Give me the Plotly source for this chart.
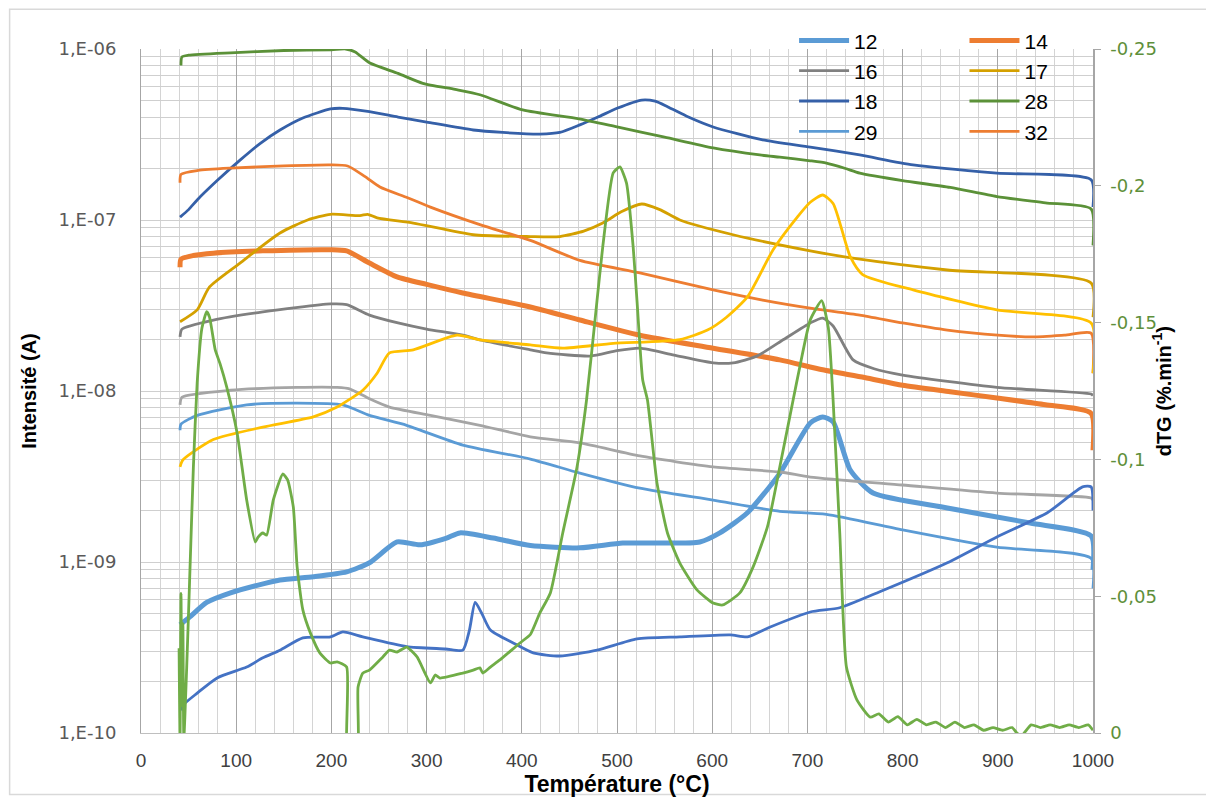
import plotly.graph_objects as go

# temperature (°C) / intensity (A) for each m/z
t12 = [41, 51, 69, 94, 122, 146, 181, 216, 240, 269, 293, 321, 335, 370, 409, 461, 506, 548, 587, 608, 637, 671, 703, 716, 727, 745, 769, 847, 934, 998, 1000]
i12 = [4.3e-10, 4.76e-10, 5.8e-10, 6.6e-10, 7.3e-10, 7.85e-10, 8.2e-10, 8.75e-10, 9.9e-10, 1.31e-9, 1.26e-9, 1.38e-9, 1.48e-9, 1.38e-9, 1.25e-9, 1.21e-9, 1.29e-9, 1.29e-9, 1.31e-9, 1.48e-9, 1.94e-9, 3.3e-9, 6.5e-9, 7.05e-9, 6.6e-9, 3.45e-9, 2.53e-9, 2.07e-9, 1.69e-9, 1.42e-9, 9.0e-10]

t14 = [41, 42, 55, 76, 128, 199, 216, 240, 269, 300, 338, 409, 461, 524, 601, 671, 716, 760, 800, 850, 899, 950, 998, 1000]
i14 = [5.3e-8, 5.9e-8, 6.2e-8, 6.4e-8, 6.6e-8, 6.7e-8, 6.6e-8, 5.6e-8, 4.65e-8, 4.2e-8, 3.74e-8, 3.1e-8, 2.6e-8, 2.12e-8, 1.78e-8, 1.52e-8, 1.33e-8, 1.2e-8, 1.08e-8, 9.9e-9, 9.1e-9, 8.3e-9, 7.4e-9, 4.5e-9]

t16 = [41, 43, 76, 128, 199, 216, 240, 270, 300, 338, 356, 409, 426, 472, 500, 524, 560, 601, 622, 647, 675, 703, 716, 727, 748, 770, 800, 899, 998, 1000]
i16 = [2.07e-8, 2.3e-8, 2.6e-8, 2.9e-8, 3.23e-8, 3.2e-8, 2.78e-8, 2.5e-8, 2.3e-8, 2.12e-8, 1.99e-8, 1.74e-8, 1.67e-8, 1.6e-8, 1.72e-8, 1.78e-8, 1.62e-8, 1.46e-8, 1.46e-8, 1.6e-8, 2.0e-8, 2.5e-8, 2.67e-8, 2.4e-8, 1.52e-8, 1.35e-8, 1.24e-8, 1.05e-8, 9.6e-9, 9.4e-9]

t17 = [41, 59, 72, 104, 146, 175, 199, 230, 238, 248, 286, 349, 409, 440, 465, 485, 505, 526, 545, 566, 622, 703, 755, 847, 998, 1000]
i17 = [2.54e-8, 2.98e-8, 4.06e-8, 5.6e-8, 8.4e-8, 1.0e-7, 1.08e-7, 1.06e-7, 1.08e-7, 1.03e-7, 9.6e-8, 8.2e-8, 8.0e-8, 8.0e-8, 8.6e-8, 9.6e-8, 1.12e-7, 1.24e-7, 1.15e-7, 1.0e-7, 8.2e-8, 6.6e-8, 5.9e-8, 5.1e-8, 4.28e-8, 2.7e-8]

t18 = [41, 50, 59, 80, 104, 125, 146, 170, 199, 212, 240, 270, 300, 349, 380, 419, 440, 461, 480, 500, 526, 540, 553, 575, 601, 653, 703, 755, 811, 899, 998, 1000]
i18 = [1.04e-7, 1.15e-7, 1.31e-7, 1.7e-7, 2.24e-7, 2.8e-7, 3.36e-7, 3.95e-7, 4.46e-7, 4.5e-7, 4.3e-7, 4.0e-7, 3.74e-7, 3.36e-7, 3.25e-7, 3.18e-7, 3.25e-7, 3.6e-7, 4.0e-7, 4.5e-7, 5.03e-7, 4.95e-7, 4.6e-7, 4.0e-7, 3.5e-7, 2.94e-7, 2.67e-7, 2.4e-7, 2.1e-7, 1.88e-7, 1.72e-7, 1.19e-7]

t28 = [42, 43, 50, 94, 150, 200, 215, 225, 240, 270, 296, 330, 356, 401, 460, 500, 550, 601, 650, 671, 703, 720, 740, 755, 800, 850, 899, 950, 998, 1000]
i28 = [8.0e-7, 9.0e-7, 9.2e-7, 9.5e-7, 9.8e-7, 9.9e-7, 1.0e-6, 9.6e-7, 8.3e-7, 7.2e-7, 6.3e-7, 5.8e-7, 5.4e-7, 4.4e-7, 3.9e-7, 3.5e-7, 3.05e-7, 2.64e-7, 2.4e-7, 2.33e-7, 2.22e-7, 2.15e-7, 2.0e-7, 1.88e-7, 1.7e-7, 1.55e-7, 1.37e-7, 1.26e-7, 1.16e-7, 7.1e-8]

t29 = [41, 42, 59, 111, 164, 212, 240, 279, 338, 409, 461, 524, 601, 671, 720, 800, 899, 998, 1000]
i29 = [5.9e-9, 6.4e-9, 7.2e-9, 8.3e-9, 8.5e-9, 8.3e-9, 7.2e-9, 6.3e-9, 4.83e-9, 4.0e-9, 3.31e-9, 2.7e-9, 2.3e-9, 1.98e-9, 1.9e-9, 1.54e-9, 1.22e-9, 1.05e-9, 7.0e-10]

t32 = [41, 42, 60, 94, 150, 199, 217, 235, 251, 280, 304, 356, 409, 461, 524, 601, 653, 703, 755, 800, 847, 900, 937, 970, 998, 1000]
i32 = [1.65e-7, 1.85e-7, 1.95e-7, 2.01e-7, 2.07e-7, 2.1e-7, 2.07e-7, 1.8e-7, 1.56e-7, 1.35e-7, 1.19e-7, 9.4e-8, 7.6e-8, 5.8e-8, 4.9e-8, 3.9e-8, 3.4e-8, 3.05e-8, 2.78e-8, 2.5e-8, 2.27e-8, 2.12e-8, 2.07e-8, 2.12e-8, 2.18e-8, 1.27e-8]

# curves drawn without a legend entry
t_gray = [41, 43, 94, 164, 206, 219, 240, 261, 304, 356, 409, 461, 524, 601, 671, 703, 800, 899, 998, 1000]
i_gray = [8.3e-9, 9.2e-9, 1.01e-8, 1.05e-8, 1.05e-8, 1.03e-8, 9.0e-9, 8.05e-9, 7.2e-9, 6.3e-9, 5.4e-9, 4.97e-9, 4.17e-9, 3.6e-9, 3.36e-9, 3.14e-9, 2.82e-9, 2.53e-9, 2.37e-9, 2.3e-9]

t_yel = [41, 44, 76, 128, 181, 206, 220, 233, 248, 261, 286, 332, 356, 409, 443, 496, 566, 595, 615, 637, 664, 690, 703, 716, 727, 745, 758, 811, 899, 998, 1000]
i_yel = [3.6e-9, 3.95e-9, 5.2e-9, 6.15e-9, 7.05e-9, 8.05e-9, 9.0e-9, 1.01e-8, 1.27e-8, 1.67e-8, 1.74e-8, 2.12e-8, 1.99e-8, 1.86e-8, 1.78e-8, 1.9e-8, 2.0e-8, 2.27e-8, 2.7e-8, 3.55e-8, 6.7e-8, 1.05e-7, 1.27e-7, 1.4e-7, 1.25e-7, 6.1e-8, 4.8e-8, 3.9e-8, 2.98e-8, 2.5e-8, 1.27e-8]

t_blu = [43, 44, 59, 80, 111, 128, 146, 170, 199, 212, 233, 279, 320, 338, 345, 351, 358, 367, 391, 412, 440, 479, 521, 566, 619, 637, 661, 703, 734, 776, 847, 899, 952, 989, 998, 1000]
i_blu = [1.35e-10, 1.45e-10, 1.71e-10, 2.1e-10, 2.43e-10, 2.75e-10, 3.05e-10, 3.6e-10, 3.65e-10, 3.9e-10, 3.65e-10, 3.2e-10, 3.1e-10, 3.05e-10, 4.0e-10, 5.8e-10, 5.0e-10, 4.0e-10, 3.36e-10, 2.94e-10, 2.82e-10, 3.05e-10, 3.55e-10, 3.65e-10, 3.75e-10, 3.65e-10, 4.17e-10, 5.1e-10, 5.4e-10, 6.7e-10, 9.9e-10, 1.4e-9, 1.94e-9, 2.75e-9, 2.75e-9, 2.0e-9]

# dTG (%/min), right axis
t_dtg = [40, 41, 42, 43, 44, 45, 48, 51, 55, 59, 64, 69, 72, 78, 83, 90, 101, 111, 120, 123, 128, 132, 139, 149, 154, 160, 164, 170, 178, 188, 199, 206, 216, 217, 227, 228, 233, 240, 254, 261, 269, 279, 290, 304, 309, 314, 338, 349, 356, 359, 367, 377, 398, 409, 419, 430, 443, 458, 468, 479, 485, 496, 503, 510, 517, 521, 527, 532, 542, 553, 566, 584, 601, 611, 629, 643, 658, 671, 685, 692, 703, 715, 722, 727, 734, 741, 752, 766, 775, 785, 795, 805, 815, 825, 835, 845, 855, 865, 875, 885, 895, 905, 915, 920, 925, 935, 945, 955, 965, 975, 985, 995, 1000]
dtg = [-0.031, 0.003, -0.051, -0.01, -0.04, 0.002, -0.024, -0.055, -0.097, -0.128, -0.148, -0.154, -0.152, -0.14, -0.135, -0.1265, -0.1096, -0.0852, -0.0698, -0.0716, -0.0731, -0.0723, -0.0852, -0.0947, -0.0925, -0.0826, -0.0607, -0.045, -0.0365, -0.0292, -0.0256, -0.026, -0.0241, 0.01, 0.01, -0.0168, -0.0219, -0.023, -0.0278, -0.0303, -0.0296, -0.0314, -0.0278, -0.0183, -0.0212, -0.0201, -0.0219, -0.023, -0.0238, -0.0219, -0.0241, -0.0267, -0.0329, -0.036, -0.0439, -0.0512, -0.0731, -0.0972, -0.1217, -0.158, -0.1776, -0.2047, -0.2069, -0.201, -0.1776, -0.158, -0.129, -0.1217, -0.0914, -0.0731, -0.0621, -0.0523, -0.0475, -0.0468, -0.0512, -0.0607, -0.0753, -0.0972, -0.1217, -0.1338, -0.151, -0.158, -0.148, -0.1217, -0.0731, -0.0241, -0.0121, -0.0058, -0.007, -0.004, -0.006, -0.003, -0.005, -0.003, -0.004, -0.002, -0.004, -0.002, -0.003, -0.001, -0.002, -0.001, -0.002, 0.0, 0.001, -0.003, -0.002, -0.003, -0.002, -0.003, -0.002, -0.003, -0.001]

y_ticks = [1e-10, 1e-9, 1e-8, 1e-7, 1e-6]
y_labels = ["1,E-10", "1,E-09", "1,E-08", "1,E-07", "1,E-06"]
y2_ticks = [0, -0.05, -0.1, -0.15, -0.2, -0.25]
y2_labels = ["0", "-0,05", "-0,1", "-0,15", "-0,2", "-0,25"]

NARROW = "Liberation Sans Narrow, Arial Narrow, Liberation Sans, sans-serif"

# (name, temps, values, colour, width, legend column)
series = [
    ("12", t12, i12, "#5B9BD5", 5, "legend"),
    ("14", t14, i14, "#ED7D31", 5, "legend2"),
    ("16", t16, i16, "#808080", 2.8, "legend"),
    ("17", t17, i17, "#D4A000", 2.8, "legend2"),
    ("18", t18, i18, "#3560A8", 2.8, "legend"),
    ("28", t28, i28, "#5B9138", 2.8, "legend2"),
    ("29", t29, i29, "#5B9BD5", 2.8, "legend"),
    ("32", t32, i32, "#ED7D31", 2.8, "legend2"),
]
extra = [
    (t_gray, i_gray, "#A5A5A5"),
    (t_yel, i_yel, "#FFC000"),
    (t_blu, i_blu, "#4472C4"),
]

fig = go.Figure()

for name, t, v, col, w, leg in series:
    fig.add_trace(go.Scatter(x=t, y=v, name=name, mode="lines", legend=leg,
                             line=dict(color=col, width=w, shape="spline", smoothing=0.6)))

for t, v, col in extra:
    fig.add_trace(go.Scatter(x=t, y=v, mode="lines", showlegend=False,
                             line=dict(color=col, width=2.8, shape="spline", smoothing=0.6)))

fig.add_trace(go.Scatter(x=t_dtg, y=dtg, yaxis="y2", mode="lines", showlegend=False,
                         line=dict(color="#70AD47", width=2.8, shape="spline", smoothing=0.5)))

# outer chart border
fig.add_shape(type="rect", xref="paper", yref="paper",
              x0=-0.138, x1=1.125, y0=-0.09, y1=1.058,
              line=dict(color="#D9D9D9", width=1.5), layer="below")

# right axis title
fig.add_annotation(text="<b>dTG (%.min<sup>-1</sup>)</b>", xref="paper", yref="paper",
                   x=1.087, y=0.5, textangle=-90, showarrow=False,
                   font=dict(family=NARROW, size=20, color="black"))

legend_style = dict(y=1.042, xanchor="left", yanchor="top", itemwidth=50,
                    bgcolor="rgba(0,0,0,0)", tracegroupgap=0,
                    font=dict(family="Liberation Sans, Arial, sans-serif", size=21, color="black"))

fig.update_layout(
    width=1206, height=790,
    margin=dict(l=133, r=121, t=41, b=65),
    paper_bgcolor="white", plot_bgcolor="white",
    legend=dict(x=0.686, **legend_style),
    legend2=dict(x=0.865, **legend_style),
    xaxis=dict(range=[0, 1000], tick0=0, dtick=100, showgrid=True, automargin=False,
               gridcolor="#A6A6A6", gridwidth=1,
               minor=dict(dtick=20, showgrid=True, gridcolor="#D4D4D4", gridwidth=1),
               showline=True, linecolor="#BFBFBF", zeroline=False,
               ticklabelstandoff=10,
               tickfont=dict(family=NARROW, size=19, color="#404040"),
               title=dict(text="Température (°C)", standoff=6,
                          font=dict(family=NARROW, size=23, color="black", weight="bold"))),
    yaxis=dict(type="log", range=[-10, -6], tickvals=y_ticks, ticktext=y_labels,
               automargin=False,
               showgrid=True, gridcolor="#CFCFCF", gridwidth=1,
               minor=dict(showgrid=True, gridcolor="#CFCFCF", gridwidth=1, dtick="D1"),
               showline=True, linecolor="#A6A6A6", zeroline=False,
               ticklabelstandoff=20,
               tickfont=dict(family="DejaVu Sans, sans-serif", size=18, color="#595959"),
               title=dict(text="Intensité (A)", standoff=16,
                          font=dict(family=NARROW, size=20, color="black", weight="bold"))),
    yaxis2=dict(overlaying="y", side="right", range=[0, -0.25], automargin=False,
                tickvals=y2_ticks, ticktext=y2_labels, showgrid=False,
                showline=True, linecolor="#A6A6A6", linewidth=1.5, zeroline=False,
                ticks="outside", ticklen=6, tickcolor="#A6A6A6",
                ticklabelstandoff=6,
                tickfont=dict(family="DejaVu Sans, sans-serif", size=18, color="#5E8F3A")),
)

fig.write_html("out.html")
